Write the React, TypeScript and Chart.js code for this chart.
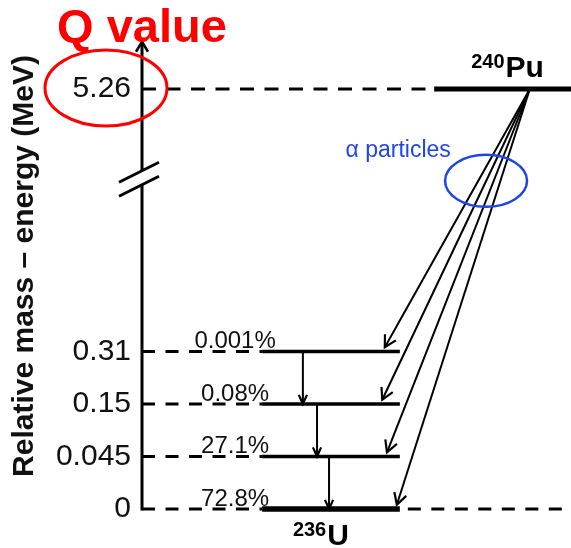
import React, { useEffect, useRef } from "react";
import { Chart, registerables } from "chart.js";

Chart.register(...registerables);

// ---------------- data ----------------
const parentMass = "240";
const parentSymbol = "Pu";
const daughterMass = "236";
const daughterSymbol = "U";
const qValue = 5.26; // MeV
const levelEnergies = [0, 0.045, 0.15, 0.31]; // MeV, states of 236U
const branchLabels = ["72.8%", "27.1%", "0.08%", "0.001%"];
const axisTitle = "Relative mass – energy (MeV)";
const headline = "Q value";
const alphaLabel = "α particles";
// broken energy axis: one slot per daughter level, Q value above the break
const levelSlots = [0, 1, 2, 3];
const qSlot = 8;

// ---------------- layout / style ----------------
const FONT = "'Liberation Sans', Arial, Helvetica, sans-serif";
const L = {
  xMin: 0,
  xMax: 100,
  levelStart: 28,
  levelEnd: 60.1,
  parentStart: 68.1,
  alphaOriginX: 90.4,
  alphaTipX: [59.4, 57.1, 56.0, 56.6],
  alphaTipLift: 0.08,
  gammaX: [43.6, 40.8, 37.5],
  pctX: 21.7,
  breakSlot: 6.31,
  axisTopSlot: 8.9,
  yMax: 9.257,
  alphaText: { x: 59.7, slot: 6.7 },
  alphaEllipse: { x: 80.2, slot: 6.25, rx: 41, ry: 26 },
  parentLabelX: 85.2,
  daughterLabelX: 41.7,
};

const pt = (x: number, y: number) => ({ x, y });

function buildDatasets() {
  const base = {
    showLine: true,
    pointRadius: 0,
    pointHoverRadius: 0,
    borderColor: "#000",
    backgroundColor: "#000",
    clip: false as any,
    tension: 0,
    fill: false,
  };
  const ds: any[] = [];
  // Q value reference dashes and parent ground state
  ds.push({ ...base, data: [pt(L.xMin, qSlot), pt(L.parentStart, qSlot)], borderWidth: 3, borderDash: [14, 10.5] });
  ds.push({ ...base, data: [pt(L.parentStart, qSlot), pt(L.xMax, qSlot)], borderWidth: 5 });
  // daughter levels
  levelSlots.forEach((s, i) => {
    ds.push({ ...base, data: [pt(L.xMin, s), pt(L.levelStart, s)], borderWidth: 3, borderDash: [13, 10.5] });
    ds.push({ ...base, data: [pt(L.levelStart, s), pt(L.levelEnd, s)], borderWidth: i === 0 ? 5.5 : 3.5 });
  });
  ds.push({
    ...base,
    data: [pt(L.levelEnd, levelSlots[0]), pt(L.xMax, levelSlots[0])],
    borderWidth: 3,
    borderDash: [13, 10.5],
    borderDashOffset: 15.5,
  });
  // alpha transitions
  levelSlots.forEach((s, i) => {
    ds.push({
      ...base,
      data: [pt(L.alphaOriginX, qSlot), pt(L.alphaTipX[i], s + L.alphaTipLift)],
      borderWidth: 2,
      arrowHead: "alpha",
    });
  });
  // gamma transitions
  for (let i = 0; i < levelSlots.length - 1; i++) {
    ds.push({
      ...base,
      data: [pt(L.gammaX[i], levelSlots[i + 1]), pt(L.gammaX[i], levelSlots[i])],
      borderWidth: 2,
      arrowHead: "gamma",
    });
  }
  return ds;
}

function tickLabel(v: number) {
  const idx = levelSlots.indexOf(v);
  if (idx >= 0) return String(levelEnergies[idx]);
  if (v === qSlot) return String(qValue);
  return "";
}

const diagramPlugin = {
  id: "decayDiagram",
  afterDatasetsDraw(chart: any) {
    const { ctx, chartArea, scales } = chart;
    const x = scales.x;
    const y = scales.y;
    ctx.save();

    // arrowheads
    chart.data.datasets.forEach((ds: any, i: number) => {
      if (!ds.arrowHead) return;
      const meta = chart.getDatasetMeta(i);
      const p0 = meta.data[0];
      const p1 = meta.data[meta.data.length - 1];
      const ang = Math.atan2(p1.y - p0.y, p1.x - p0.x);
      const len = ds.arrowHead === "alpha" ? 13 : 10;
      const half = ds.arrowHead === "alpha" ? 0.5 : 0.42;
      ctx.beginPath();
      ctx.moveTo(p1.x - len * Math.cos(ang - half), p1.y - len * Math.sin(ang - half));
      ctx.lineTo(p1.x, p1.y);
      ctx.lineTo(p1.x - len * Math.cos(ang + half), p1.y - len * Math.sin(ang + half));
      ctx.lineWidth = 2.2;
      ctx.strokeStyle = "#000";
      ctx.lineJoin = "miter";
      ctx.stroke();
    });

    // energy axis with break and arrow
    const ax = chartArea.left;
    const yBottom = y.getPixelForValue(levelSlots[0]);
    const yTop = y.getPixelForValue(L.axisTopSlot);
    const yBreak = y.getPixelForValue(L.breakSlot);
    ctx.strokeStyle = "#000";
    ctx.lineWidth = 3;
    ctx.lineCap = "butt";
    ctx.beginPath();
    ctx.moveTo(ax, yBottom + 1.5);
    ctx.lineTo(ax, yBreak + 7);
    ctx.moveTo(ax, yBreak - 7);
    ctx.lineTo(ax, yTop + 1);
    ctx.stroke();
    ctx.lineWidth = 2.5;
    ctx.beginPath();
    ctx.moveTo(ax - 6, yTop + 10);
    ctx.lineTo(ax, yTop);
    ctx.lineTo(ax + 6, yTop + 10);
    ctx.stroke();
    ctx.lineWidth = 3;
    [-7, 7].forEach((o) => {
      ctx.beginPath();
      ctx.moveTo(ax - 23, yBreak + o + 11.5);
      ctx.lineTo(ax + 17, yBreak + o - 8.5);
      ctx.stroke();
    });

    // Q value highlight
    const yQ = y.getPixelForValue(qSlot);
    ctx.strokeStyle = "#f00";
    ctx.lineWidth = 3;
    ctx.beginPath();
    ctx.ellipse(ax - 36, yQ - 1, 61, 38, 0, 0, Math.PI * 2);
    ctx.stroke();
    ctx.fillStyle = "#f00";
    ctx.font = `bold 47px ${FONT}`;
    ctx.textAlign = "center";
    ctx.textBaseline = "alphabetic";
    ctx.fillText(headline, ax, yTop);

    // alpha particles annotation
    const blue = "#1f45e6";
    ctx.strokeStyle = blue;
    ctx.lineWidth = 2.5;
    ctx.beginPath();
    ctx.ellipse(
      x.getPixelForValue(L.alphaEllipse.x),
      y.getPixelForValue(L.alphaEllipse.slot),
      L.alphaEllipse.rx,
      L.alphaEllipse.ry,
      0,
      0,
      Math.PI * 2
    );
    ctx.stroke();
    ctx.fillStyle = blue;
    ctx.font = `23px ${FONT}`;
    ctx.fillText(alphaLabel, x.getPixelForValue(L.alphaText.x), y.getPixelForValue(L.alphaText.slot));

    // branching ratios
    ctx.fillStyle = "#111";
    ctx.font = `24px ${FONT}`;
    ctx.textAlign = "center";
    levelSlots.forEach((s, i) => {
      ctx.fillText(branchLabels[i], x.getPixelForValue(L.pctX), y.getPixelForValue(s) - 3);
    });

    // isotope labels
    const drawIsotope = (mass: string, sym: string, cx: number, baseline: number) => {
      ctx.font = `bold 20px ${FONT}`;
      const wm = ctx.measureText(mass).width;
      ctx.font = `bold 30px ${FONT}`;
      const ws = ctx.measureText(sym).width;
      const left = cx - (wm + ws + 1) / 2;
      ctx.textAlign = "left";
      ctx.fillStyle = "#000";
      ctx.font = `bold 20px ${FONT}`;
      ctx.fillText(mass, left, baseline - 9);
      ctx.font = `bold 30px ${FONT}`;
      ctx.fillText(sym, left + wm + 1, baseline);
    };
    drawIsotope(parentMass, parentSymbol, x.getPixelForValue(L.parentLabelX), yQ - 12);
    drawIsotope(daughterMass, daughterSymbol, x.getPixelForValue(L.daughterLabelX), yBottom + 36);

    ctx.restore();
  },
};

export default function App() {
  const canvasRef = useRef<HTMLCanvasElement | null>(null);

  useEffect(() => {
    if (!canvasRef.current) return;
    const chart = new Chart(canvasRef.current, {
      type: "scatter",
      data: { datasets: buildDatasets() },
      options: {
        animation: false,
        responsive: false,
        events: [],
        layout: { padding: { top: 23, bottom: 39, left: 0, right: 0 } },
        plugins: {
          legend: { display: false },
          tooltip: { enabled: false },
          title: { display: false },
        },
        scales: {
          x: { type: "linear", display: false, min: L.xMin, max: L.xMax },
          y: {
            type: "linear",
            position: "left",
            min: 0,
            max: L.yMax,
            grid: { display: false, drawTicks: false },
            border: { display: false },
            ticks: {
              padding: 11,
              color: "#111",
              autoSkip: false,
              font: { size: 30, family: FONT },
              callback: (v: any) => tickLabel(Number(v)),
            },
            title: {
              display: true,
              text: axisTitle,
              color: "#111",
              font: { size: 30, weight: "bold", family: FONT },
              padding: { top: 7, bottom: 0 },
            },
            afterBuildTicks: (scale: any) => {
              scale.ticks = [...levelSlots, qSlot].map((v) => ({ value: v }));
            },
            afterFit: (scale: any) => {
              scale.width = 142;
              scale.paddingTop = 0;
              scale.paddingBottom = 0;
            },
          },
        },
      } as any,
      plugins: [diagramPlugin],
    });
    return () => chart.destroy();
  }, []);

  return (
    <div style={{ position: "absolute", left: 0, top: 0, width: 571, height: 548, background: "#fff" }}>
      <canvas ref={canvasRef} width={571} height={548} />
    </div>
  );
}
